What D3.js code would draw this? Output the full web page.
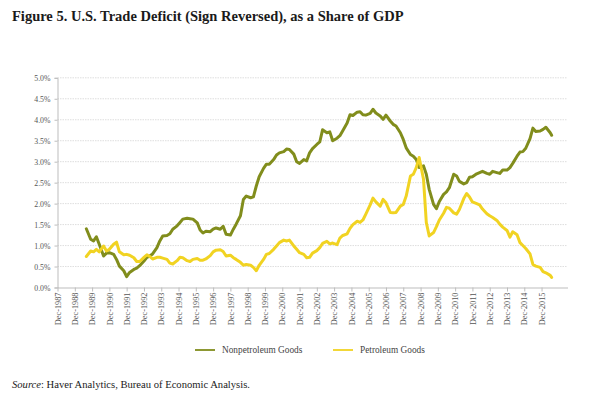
<!DOCTYPE html>
<html>
<head>
<meta charset="utf-8">
<script src="https://cdn.jsdelivr.net/npm/d3@7"></script>
<style>
  body { margin: 0; background: #fff; }
  svg { display: block; font-family: "Liberation Serif", "DejaVu Serif", serif; }
</style>
</head>
<body>
<div id="chart"></div>
<script>
// Months (YYYY-MM)
const months = [
  "1989-08","1989-11","1990-01","1990-03","1990-05","1990-08","1990-10","1990-12","1991-03","1991-05",
  "1991-07","1991-10","1991-12","1992-02","1992-05","1992-07","1992-09","1992-12","1993-02","1993-04",
  "1993-06","1993-09","1993-11","1994-01","1994-04","1994-06","1994-08","1994-11","1995-01","1995-03",
  "1995-06","1995-08","1995-10","1996-01","1996-03","1996-05","1996-07","1996-10","1996-12","1997-02",
  "1997-05","1997-07","1997-09","1997-12","1998-02","1998-04","1998-07","1998-09","1998-11","1999-02",
  "1999-04","1999-06","1999-08","1999-11","2000-01","2000-03","2000-06","2000-08","2000-10","2001-01",
  "2001-03","2001-05","2001-08","2001-10","2001-12","2002-03","2002-05","2002-07","2002-09","2002-12",
  "2003-02","2003-04","2003-07","2003-09","2003-11","2004-02","2004-04","2004-06","2004-09","2004-11",
  "2005-01","2005-04","2005-06","2005-08","2005-10","2006-01","2006-03","2006-05",
  "2006-08","2006-10","2006-12","2007-03","2007-05","2007-07","2007-10","2007-12","2008-02","2008-05",
  "2008-07","2008-09","2008-11","2009-02","2009-04","2009-06","2009-09","2009-11","2010-01","2010-04",
  "2010-06","2010-08","2010-11","2011-01","2011-03","2011-06","2011-08","2011-10","2011-12","2012-03",
  "2012-05","2012-07","2012-10","2012-12","2013-02","2013-05","2013-07","2013-09","2013-12","2014-02",
  "2014-04","2014-07","2014-09","2014-11","2015-01","2015-04","2015-06","2015-08","2015-11","2016-01",
  "2016-03","2016-06","2016-07"
];

// Nonpetroleum goods deficit, % of GDP
const nonpetroleum = [
  1.40,1.15,1.11,1.21,1.03,0.75,0.82,0.83,0.79,0.67,
  0.51,0.40,0.26,0.36,0.43,0.46,0.52,0.63,0.72,0.75,
  0.80,0.95,1.11,1.23,1.24,1.28,1.39,1.47,1.55,1.63,
  1.65,1.64,1.63,1.54,1.37,1.30,1.34,1.33,1.39,1.42,
  1.39,1.46,1.27,1.25,1.39,1.51,1.71,2.10,2.18,2.14,
  2.16,2.42,2.64,2.84,2.94,2.94,3.05,3.16,3.21,3.24,
  3.30,3.29,3.18,3.00,2.96,3.05,3.02,3.21,3.31,3.41,
  3.47,3.76,3.69,3.71,3.50,3.56,3.62,3.74,3.92,4.12,
  4.10,4.18,4.19,4.12,4.11,4.15,4.25,4.16,
  4.09,4.01,4.11,3.97,3.89,3.85,3.69,3.53,3.33,3.17,
  3.13,3.05,2.86,2.90,2.70,2.34,1.98,1.88,2.05,2.22,
  2.28,2.38,2.70,2.66,2.53,2.47,2.50,2.63,2.64,2.71,
  2.74,2.77,2.72,2.70,2.77,2.74,2.72,2.80,2.80,2.86,
  2.96,3.13,3.23,3.24,3.32,3.55,3.80,3.72,3.73,3.77,
  3.82,3.69,3.63
];

// Petroleum goods deficit, % of GDP
const petroleum = [
  0.74,0.87,0.85,0.91,0.85,0.99,0.87,0.91,1.03,1.08,
  0.85,0.78,0.79,0.77,0.71,0.62,0.62,0.72,0.78,0.74,
  0.68,0.72,0.72,0.70,0.67,0.58,0.56,0.64,0.72,0.71,
  0.64,0.62,0.67,0.69,0.65,0.65,0.68,0.76,0.85,0.89,
  0.90,0.86,0.75,0.77,0.71,0.67,0.60,0.53,0.55,0.53,
  0.48,0.40,0.53,0.67,0.79,0.81,0.91,0.99,1.07,1.13,
  1.11,1.13,0.99,0.91,0.83,0.79,0.71,0.72,0.82,0.88,
  0.95,1.05,1.10,1.04,1.06,1.02,1.18,1.24,1.28,1.41,
  1.50,1.58,1.55,1.61,1.75,1.97,2.13,2.04,
  1.94,2.10,2.02,1.79,1.78,1.79,1.94,1.98,2.18,2.66,
  2.70,2.86,3.10,2.58,1.55,1.23,1.31,1.45,1.61,1.77,
  1.91,1.89,1.78,1.75,1.86,2.12,2.24,2.16,2.04,2.00,
  1.97,1.87,1.76,1.71,1.67,1.60,1.51,1.44,1.36,1.20,
  1.33,1.26,1.07,1.00,0.93,0.80,0.55,0.51,0.48,0.38,
  0.35,0.29,0.24
];

const yTicks = [0, 0.5, 1, 1.5, 2, 2.5, 3, 3.5, 4, 4.5, 5];
const tickYears = d3.range(1987, 2016);

const seriesNames = ["Nonpetroleum Goods", "Petroleum Goods"];
const seriesColors = ["#818d1c", "#f1d322"];

const W = 593, H = 407;
const plot = { left: 57.5, right: 567.5, top: 77.8, bottom: 287.5 };

const parseMonth = d3.timeParse("%Y-%m");
const dates = months.map(parseMonth);

const svg = d3.select("#chart").append("svg")
  .attr("width", W)
  .attr("height", H);

// Title
svg.append("text")
  .attr("x", 12)
  .attr("y", 21)
  .attr("font-size", 14.5)
  .attr("font-weight", "bold")
  .attr("fill", "#1a1a1a")
  .text("Figure 5. U.S. Trade Deficit (Sign Reversed), as a Share of GDP");

// Scales
const x = d3.scaleTime()
  .domain([new Date(1987, 11, 1), new Date(2017, 5, 1)])
  .range([plot.left, plot.right]);

const y = d3.scaleLinear()
  .domain([0, 5])
  .range([plot.bottom, plot.top]);

// Grid lines
svg.append("g")
  .selectAll("line")
  .data(yTicks.slice(1))
  .enter().append("line")
  .attr("x1", plot.left)
  .attr("x2", plot.right)
  .attr("y1", d => y(d))
  .attr("y2", d => y(d))
  .attr("stroke", "#d6d6d6")
  .attr("stroke-width", 0.8)
  .attr("stroke-dasharray", "1.5,1");

// Y axis
const yAxis = d3.axisLeft(y)
  .tickValues(yTicks)
  .tickFormat(d => d.toFixed(1) + "%")
  .tickSize(3)
  .tickPadding(4);

const gy = svg.append("g")
  .attr("transform", `translate(${plot.left},0)`)
  .call(yAxis);
gy.select(".domain").attr("stroke", "#bdbdbd");
gy.selectAll(".tick line").attr("stroke", "#bdbdbd");
gy.selectAll("text")
  .attr("font-family", "Liberation Serif")
  .attr("font-size", 7.8)
  .attr("fill", "#555");

// X axis
const xAxis = d3.axisBottom(x)
  .tickValues(tickYears.map(yr => new Date(yr, 11, 1)))
  .tickFormat(d3.timeFormat("Dec-%Y"))
  .tickSize(4)
  .tickSizeOuter(0);

const gx = svg.append("g")
  .attr("transform", `translate(0,${plot.bottom})`)
  .call(xAxis);
gx.select(".domain").attr("stroke", "#bdbdbd");
gx.selectAll(".tick line").attr("stroke", "#bdbdbd");
gx.selectAll("text")
  .attr("font-family", "Liberation Serif")
  .attr("font-size", 8.3)
  .attr("fill", "#555")
  .attr("text-anchor", "end")
  .attr("dy", "0.32em")
  .attr("transform", "translate(0,5) rotate(-90)")
  .attr("x", 0)
  .attr("y", 0);

// Lines
const line = d3.line()
  .x((d, i) => x(dates[i]))
  .y(d => y(d))
  .curve(d3.curveLinear);

[nonpetroleum, petroleum].forEach((values, k) => {
  svg.append("path")
    .datum(values)
    .attr("fill", "none")
    .attr("stroke", seriesColors[k])
    .attr("stroke-width", 3)
    .attr("stroke-linejoin", "round")
    .attr("stroke-linecap", "round")
    .attr("d", line);
});

// Legend
const legendX = [195, 333];
const legend = svg.append("g");
seriesNames.forEach((name, k) => {
  legend.append("line")
    .attr("x1", legendX[k])
    .attr("x2", legendX[k] + 20)
    .attr("y1", 350)
    .attr("y2", 350)
    .attr("stroke", seriesColors[k])
    .attr("stroke-width", 1.8);
  legend.append("text")
    .attr("x", legendX[k] + 27)
    .attr("y", 353)
    .attr("font-size", 9.3)
    .attr("fill", "#444")
    .text(name);
});

// Source note
const src = svg.append("text")
  .attr("x", 12)
  .attr("y", 388)
  .attr("font-size", 10.6)
  .attr("fill", "#1a1a1a");
src.append("tspan").attr("font-style", "italic").text("Source");
src.append("tspan").text(": Haver Analytics, Bureau of Economic Analysis.");
</script>
</body>
</html>
